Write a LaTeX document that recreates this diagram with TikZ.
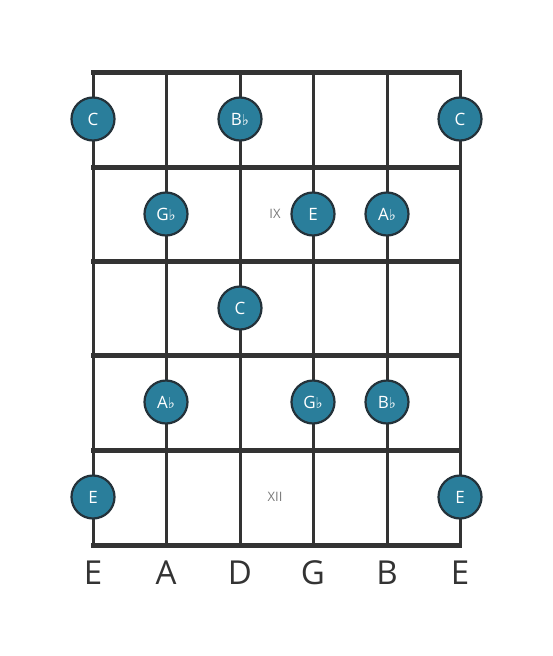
\documentclass[tikz,border=0pt]{standalone}
\usepackage{fontspec}
\setmainfont{Open Sans}
\newfontfamily\flatfont{DejaVu Sans}
\usepackage{tikz}
\usetikzlibrary{shapes,arrows}
\definecolor{notefill}{HTML}{2A7E9B}
\definecolor{noteline}{HTML}{24323A}
\definecolor{boardline}{HTML}{333333}
\definecolor{fretnum}{HTML}{7A7A7A}
\newcommand{\fl}{{\flatfont\fontsize{15}{15}\selectfont\char"266D}}

\begin{document}
\begin{tikzpicture}[x=1pt,y=-1pt,
        note/.style={circle,draw=noteline,line width=2.2pt,fill=notefill,minimum size=43pt,inner sep=0pt,
                     text=white,font=\fontsize{17}{17}\selectfont},
        stringname/.style={text=boardline,font=\fontsize{33}{33}\selectfont},
        fretmark/.style={text=fretnum,font=\fontsize{13}{13}\selectfont},
        stringline/.style={boardline,line width=3pt},
        fretline/.style={boardline,line width=5pt}
    ]
            \useasboundingbox (0,0) rectangle (553,656);

            % strings
            \draw[stringline] (93,72) -- (93,545);
            \draw[stringline] (166,72) -- (166,545);
            \draw[stringline] (240,72) -- (240,545);
            \draw[stringline] (313,72) -- (313,545);
            \draw[stringline] (387,72) -- (387,545);
            \draw[stringline] (460,72) -- (460,545);

            % frets
            \draw[fretline] (91,72) -- (462,72);
            \draw[fretline] (91,167) -- (462,167);
            \draw[fretline] (91,261) -- (462,261);
            \draw[fretline] (91,355) -- (462,355);
            \draw[fretline] (91,450) -- (462,450);
            \draw[fretline] (91,545) -- (462,545);

            \node[fretmark] (IX) at (275,214) {IX};
            \node[fretmark] (XII) at (275,497) {XII};

            \node[note] (C1) at (93,119) {C};
            \node[note] (Bb1) at (240,119) {B\fl};
            \node[note] (C2) at (460,119) {C};

            \node[note] (Gb1) at (166,214) {G\fl};
            \node[note] (E1) at (313,214) {E};
            \node[note] (Ab1) at (387,214) {A\fl};

            \node[note] (C3) at (240,308) {C};

            \node[note] (Ab2) at (166,402) {A\fl};
            \node[note] (Gb2) at (313,402) {G\fl};
            \node[note] (Bb2) at (387,402) {B\fl};

            \node[note] (E2) at (93,497) {E};
            \node[note] (E3) at (460,497) {E};

            \node[stringname] (s1) at (93,573) {E};
            \node[stringname] (s2) at (166,573) {A};
            \node[stringname] (s3) at (240,573) {D};
            \node[stringname] (s4) at (313,573) {G};
            \node[stringname] (s5) at (387,573) {B};
            \node[stringname] (s6) at (460,573) {E};

\end{tikzpicture}
\end{document}
